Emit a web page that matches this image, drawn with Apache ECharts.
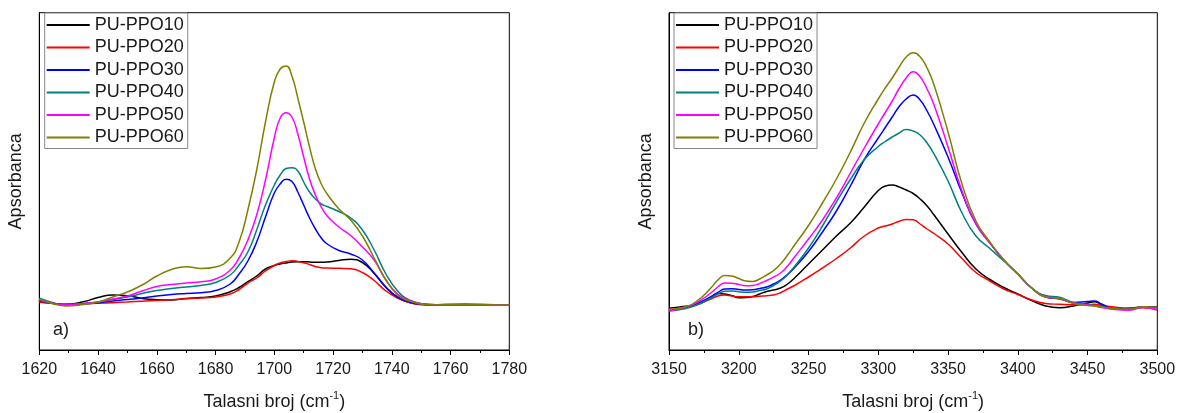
<!DOCTYPE html>
<html>
<head>
<meta charset="utf-8">
<script src="https://cdn.jsdelivr.net/npm/echarts@6/dist/echarts.min.js"></script>
<style>
html,body{margin:0;padding:0;background:#fff;}
#chart{width:1179px;height:413px;}
</style>
</head>
<body>
<div id="chart"></div>
<script>
// ---- Data (absorbance, arbitrary units) ----
const seriesNames = ['PU-PPO10','PU-PPO20','PU-PPO30','PU-PPO40','PU-PPO50','PU-PPO60'];
const seriesColors = ['#000000','#ff0000','#0000ff','#008080','#ff00ff','#808000'];

// Panel a) : 1620 - 1780 cm-1
const wnA = [1620,1625,1629,1635,1640,1645,1650,1655,1660,1665,1670,1675,1680,1685,1688,1691,1694,1697,1700,1702,1704,1706,1708,1710,1712,1714,1716,1718,1722,1726,1730,1734,1738,1742,1746,1750,1755,1760,1765,1770,1775,1780];
const a_PPO10 = [48.3,46.5,45.7,48.3,52.5,55,54.3,51.5,50.3,50,51.5,52.5,54,58.3,62.5,68.3,74,81,84.5,86,87,88,88.3,88.3,88,87.7,87.7,88,89.5,90.7,87.5,76.5,62.5,52.5,47.5,45.5,45,45.3,45.3,45.3,45,45];
const a_PPO20 = [47.7,46.5,45.7,46.2,46.7,47.3,48,48.8,49.5,50.3,51.3,52,53,56,60.5,67,72,79,84.5,87,88.5,89.3,88.5,87.3,85.5,83.5,82.3,82,81.7,81.3,77.5,69.5,59,52,47.5,45.5,45.3,45.8,46,45.7,45.3,45];
const a_PPO30 = [49,46.5,45,46,47.3,49,50.5,52,54,55.5,56.5,57.3,59.5,66,76,89,108,133,157,166,170.7,168.5,158,145,132,121,112,106,99.5,96,90,77,63,53,48,46,45.3,45.3,45.3,45.3,45,45];
const a_PPO40 = [51.7,47,45,46.5,48,50.5,53,56.5,59.5,61.5,63,64.5,67.5,75,85,98,120,145,165,175,181.5,182.3,179,168,158,151,146,143.5,138.5,132,120,100,76,59,50,46.3,45.3,45.3,45.3,45.3,45,45];
const a_PPO50 = [50,46.5,45,46.5,48,51,54,59,63.5,65.5,67,68.3,71,80,92,110,135,170,212,232,237.3,233,216,193,171,155,143,134,123,114.5,103,90,70,56,49.5,46.3,45.3,45.5,45.5,45.3,45,45];
const a_PPO60 = [50.7,46,44,45.5,48,53,58,65,74,80.5,83.3,81.5,83,92,108,140,180,228,268,281,284,274,252,228,203,181,166,156,141,130,114,92,70,55,49,46,45,45.3,45.3,45.3,45,45];

// Panel b) : 3150 - 3500 cm-1
const wnB = [3150,3160,3170,3180,3185,3190,3195,3200,3205,3210,3215,3220,3225,3230,3235,3240,3250,3260,3270,3280,3290,3300,3305,3310,3315,3320,3325,3330,3335,3340,3350,3360,3370,3380,3390,3400,3410,3420,3430,3440,3450,3455,3460,3470,3480,3490,3500];
const b_PPO10 = [41.7,43.5,45.5,53,56.5,56,54.5,52.3,52.5,53.5,56,58.5,60,62,66,72,86,100,114,127,143,159.5,164,165,163,160,156.5,151,144,135,116,97.5,81,70.5,62.5,56,49.5,44,42.3,44,47,48.3,45.5,41.5,41.7,43.3,43.3];
const b_PPO20 = [40,42.5,45.5,51,54,55,54,53.3,53.3,53.3,53.8,54.3,55,57.3,61,64.5,73,82,91.5,102,114,122,124,126,128.8,130.5,130.3,126,121,116.5,106,91.5,77.5,69,61,55.5,50,46.5,45.7,45.2,45.5,45.7,44.5,42.8,41.7,42.3,40];
const b_PPO30 = [39.3,41.5,46.5,53,57.5,61,61.3,60.5,60,60.3,61.5,63,66,70,75.5,82.5,98.5,118,139,164,190.5,212,222.5,233,243.5,251,255,250,239,225,193,157,126,107,90,76,62,53,51,47.5,48.5,49,46,40.7,40.5,43,42.5];
const b_PPO40 = [39.3,41,45,52,56,58.8,59,58.3,57.7,58,59.5,61,64.5,69,75.5,83.5,102,124,148,170.5,190.5,203.5,208.5,213,217,220.5,219,215,207,196,169,137,114,101.5,89,76,62,54.5,52.7,47.5,45.5,44.5,43.5,41,40.8,43,42.5];
const b_PPO50 = [39.3,42,47.5,57,63,67,66.8,65.5,64.3,64.5,66.5,69.5,73,77,84,93,111,130,152,177,202,226,237.5,249,261.5,272,278.3,273.3,261,245,203,159,126,107,90,76,62,53,51.5,47,45,44,42.5,40.5,39.8,42.5,40.5];
const b_PPO60 = [40.7,42.5,49,62,70,74.5,74,71.5,69,68.5,71,75,79.5,86,95,105,124.5,147,171,198,227,251,262,272,283,293,297.3,293.3,282,265,218,166,129,108,90,76,62,53,51.5,46.5,44.5,44,43,41.3,40.8,43.3,42.7];

const seriesA = [a_PPO10,a_PPO20,a_PPO30,a_PPO40,a_PPO50,a_PPO60];
const seriesB = [b_PPO10,b_PPO20,b_PPO30,b_PPO40,b_PPO50,b_PPO60];

const xTicksA = {min:1620, max:1780, interval:20};
const xTicksB = {min:3150, max:3500, interval:50};
const xName = '{t|Talasni broj (cm}{s|-1}{t|)}';
const yName = 'Apsorbanca';
const panelLabels = ['a)','b)'];

// ---- Chart ----
const FONT = '"Liberation Sans", Arial, sans-serif';
const chart = echarts.init(document.getElementById('chart'), null, {renderer:'canvas'});

function pairs(xs, ys){ return xs.map((x,i)=>[x, ys[i]]); }

const grids = [
  {left:39.3, right:669.7, top:12.7, bottom:63, containLabel:false, outerBoundsMode:'none', show:true, borderColor:'#000', borderWidth:1, backgroundColor:'transparent'},
  {left:669, right:21.7, top:12.7, bottom:63, containLabel:false, outerBoundsMode:'none', show:true, borderColor:'#000', borderWidth:1, backgroundColor:'transparent'}
];

function xAxis(idx, t){
  return {
    type:'value', gridIndex:idx, min:t.min, max:t.max, interval:t.interval,
    name:xName, nameLocation:'middle', nameGap:41,
    nameTextStyle:{
      rich:{
        t:{fontFamily:FONT, fontSize:18, color:'#1a1a1a', lineHeight:22},
        s:{fontFamily:FONT, fontSize:11, color:'#1a1a1a', lineHeight:22, padding:[0,0,12,0]}
      }
    },
    axisLine:{show:true, onZero:false, lineStyle:{color:'#000', width:1}},
    axisTick:{show:true, inside:false, length:5, lineStyle:{color:'#000', width:1}},
    minorTick:{show:true, splitNumber:2, length:3, lineStyle:{color:'#000', width:1}},
    axisLabel:{fontFamily:FONT, fontSize:16, color:'#1a1a1a', margin:12, formatter:(v)=>String(v)},
    splitLine:{show:false}
  };
}
function yAxis(idx){
  return {
    type:'value', gridIndex:idx, min:0, max:337.3,
    name:yName, nameLocation:'middle', nameGap:14,
    nameTextStyle:{fontFamily:FONT, fontSize:18, color:'#1a1a1a'},
    axisLine:{show:true, lineStyle:{color:'#000', width:1}},
    axisTick:{show:false}, axisLabel:{show:false}, splitLine:{show:false}
  };
}

const series = [];
seriesNames.forEach((n,i)=>{
  series.push({name:n, type:'line', xAxisIndex:0, yAxisIndex:0, data:pairs(wnA, seriesA[i]),
    smooth:0.5, symbol:'none', lineStyle:{width:1.5, color:seriesColors[i]}, itemStyle:{color:seriesColors[i]}, z:2+i});
  series.push({name:n, type:'line', xAxisIndex:1, yAxisIndex:1, data:pairs(wnB, seriesB[i]),
    smooth:0.5, symbol:'none', lineStyle:{width:1.5, color:seriesColors[i]}, itemStyle:{color:seriesColors[i]}, z:2+i});
});

function legend(left){
  return {
    data:seriesNames.map((n,i)=>({name:n, icon:'rect', itemStyle:{color:seriesColors[i], borderWidth:0}})),
    orient:'vertical', left:left, top:13,
    padding:[3,4,2,2], itemGap:4.5, itemWidth:43, itemHeight:2,
    backgroundColor:'#fff', borderColor:'#888', borderWidth:1, borderRadius:0,
    textStyle:{fontFamily:FONT, fontSize:18, color:'#1a1a1a', lineHeight:18},
    selectedMode:false
  };
}

chart.setOption({
  animation:false,
  backgroundColor:'#fff',
  grid:grids,
  xAxis:[xAxis(0,xTicksA), xAxis(1,xTicksB)],
  yAxis:[yAxis(0), yAxis(1)],
  legend:[legend(44.7), legend(674)],
  series:series,
  graphic:[
    {type:'text', left:53, top:321, style:{text:panelLabels[0], font:'18px '+FONT, fill:'#1a1a1a'}},
    {type:'text', left:688, top:321, style:{text:panelLabels[1], font:'18px '+FONT, fill:'#1a1a1a'}}
  ]
});
</script>
</body>
</html>
